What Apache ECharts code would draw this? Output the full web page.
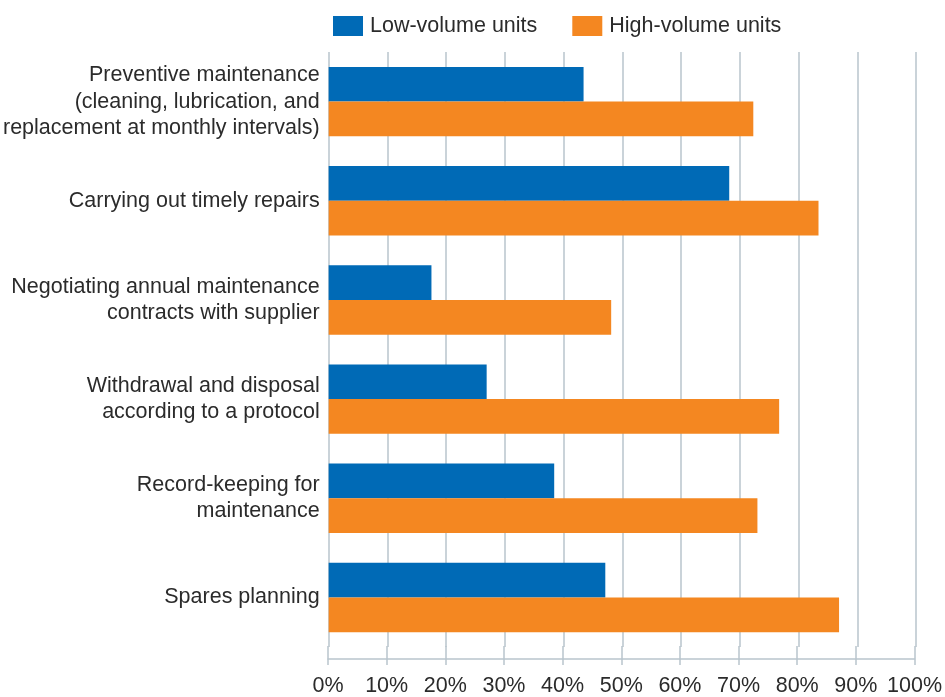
<!DOCTYPE html>
<html>
<head>
<meta charset="utf-8">
<style>
  html, body { margin: 0; padding: 0; background: #fff; }
  #chart { width: 945px; height: 697px; }
</style>
<script src="https://cdn.jsdelivr.net/npm/echarts@6/dist/echarts.min.js"></script>
</head>
<body>
<div id="chart"></div>
<script>
const categories = [
  "Preventive maintenance\n(cleaning, lubrication, and\nreplacement at monthly intervals)",
  "Carrying out timely repairs",
  "Negotiating annual maintenance\ncontracts with supplier",
  "Withdrawal and disposal\naccording to a protocol",
  "Record-keeping for\nmaintenance",
  "Spares planning"
];
const lowVolume = [43.4, 68.2, 17.5, 26.9, 38.4, 47.1];
const highVolume = [72.3, 83.4, 48.1, 76.7, 73.0, 86.9];

var chartDom = document.getElementById("chart");
var myChart = echarts.init(chartDom);
var gridColor = "#b9c5cd";
var textColor = "#2b2b2b";
var font = "Liberation Sans";

var option = {
  animation: false,
  textStyle: { fontFamily: font },
  legend: {
    top: 10,
    left: 328,
    itemWidth: 30,
    itemHeight: 20,
    itemGap: 35,
    icon: "rect",
    textStyle: { fontSize: 21.5, color: textColor, fontFamily: font, padding: [0, 0, 0, 2] },
    data: ["Low-volume units", "High-volume units"]
  },
  grid: [
    { left: 328, right: 29, top: 52, height: 595 },
    { left: 328, right: 29, top: 646, height: 16 }
  ],
  xAxis: [
    {
      gridIndex: 0,
      type: "value",
      min: 0,
      max: 100,
      interval: 10,
      axisLine: { show: false },
      axisTick: { show: false },
      axisLabel: { show: false },
      splitLine: { lineStyle: { color: gridColor, width: 1.5 } }
    },
    {
      gridIndex: 1,
      type: "value",
      min: 0,
      max: 100,
      interval: 10,
      axisLine: { show: true, lineStyle: { color: gridColor, width: 1.5 } },
      axisTick: { show: true, length: 6, lineStyle: { color: gridColor, width: 1.5 } },
      axisLabel: {
        formatter: "{value}%",
        fontSize: 21.5,
        color: textColor,
        margin: 16,
        fontFamily: font
      },
      splitLine: { show: true, lineStyle: { color: gridColor, width: 1.5 } }
    }
  ],
  yAxis: [
    {
      gridIndex: 0,
      type: "category",
      inverse: true,
      data: categories,
      axisLine: { show: false },
      axisTick: { show: false },
      axisLabel: {
        fontSize: 21.5,
        lineHeight: 26.5,
        color: textColor,
        margin: 9,
        align: "right",
        fontFamily: font
      }
    },
    { gridIndex: 1, type: "value", show: false }
  ],
  series: [
    {
      name: "Low-volume units",
      type: "bar",
      data: lowVolume,
      barGap: "0%",
      barCategoryGap: "30%",
      itemStyle: { color: "#006ab6" }
    },
    {
      name: "High-volume units",
      type: "bar",
      data: highVolume,
      barGap: "0%",
      barCategoryGap: "30%",
      itemStyle: { color: "#f48721" }
    }
  ]
};

option && myChart.setOption(option);
</script>
</body>
</html>
